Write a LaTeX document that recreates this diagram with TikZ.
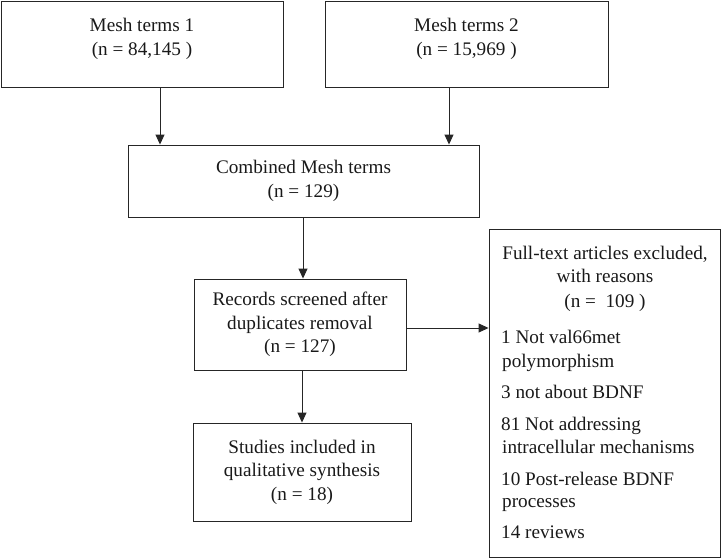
\documentclass[tikz,border=0pt]{standalone}
\usepackage{fontspec}
\setmainfont{Liberation Serif}
\usetikzlibrary{arrows.meta}
\begin{document}
\begin{tikzpicture}[x=1pt,y=-1pt,
  box/.style={draw=black!85, line width=0.9pt, inner sep=0pt, font=\fontsize{19.2}{23.5}\selectfont, text=black!90, align=center},
  txt/.style={font=\fontsize{19.2}{23.5}\selectfont, text=black!90, align=center, inner sep=0pt},
  itm/.style={font=\fontsize{19.2}{23.5}\selectfont, text=black!90, anchor=base west, inner sep=0pt},
  hd/.style={font=\fontsize{19.2}{23.5}\selectfont, text=black!90, anchor=base, inner sep=0pt},
  arr/.style={draw=black!85, line width=1pt, -{Triangle[length=10pt,width=9pt]}}]
\useasboundingbox (0,0) rectangle (721,559);
% boxes
\node[box, minimum width=282pt, minimum height=86pt] (m1) at (142,44) {};
\node[txt] (m1t) at (142,39) {Mesh terms 1\\(n = 84,145 )};
\node[box, minimum width=283pt, minimum height=86pt] (m2) at (466.5,44) {};
\node[txt] (m2t) at (466.5,39) {Mesh terms 2\\(n = 15,969 )};
\node[box, minimum width=351pt, minimum height=72pt] (comb) at (303.5,181) {Combined Mesh terms\\(n = 129)};
\node[box, minimum width=212pt, minimum height=91pt] (rec) at (300,324.5) {Records screened after\\duplicates removal\\(n = 127)};
\node[box, minimum width=218pt, minimum height=98pt] (stud) at (302,472) {Studies included in\\qualitative synthesis\\(n = 18)};
\node[box, minimum width=231pt, minimum height=328pt] (excl) at (604.5,393) {};
% excluded text
\node[hd] (h1) at (605,259) {Full-text articles excluded,};
\node[hd] (h2) at (605,283) {with reasons};
\node[hd] (h3) at (605,307) {(n =\ \ 109 )};
\node[itm] (i1) at (501,343) {1 Not val66met};
\node[itm] (i2) at (502,367) {polymorphism};
\node[itm] (i3) at (501,398) {3 not about BDNF};
\node[itm] (i4) at (501,430) {81 Not addressing};
\node[itm] (i5) at (502,453) {intracellular mechanisms};
\node[itm] (i6) at (501,485) {10 Post-release BDNF};
\node[itm] (i7) at (502,507) {processes};
\node[itm] (i8) at (501,538) {14 reviews};
% arrows
\draw[arr] ([xshift=18pt]m1.south) -- ([xshift=18pt]m1.south |- comb.north);
\draw[arr] ([xshift=-17.5pt]m2.south) -- ([xshift=-17.5pt]m2.south |- comb.north);
\draw[arr] ([xshift=-0.5pt]comb.south) -- ([xshift=-0.5pt]comb.south |- rec.north);
\draw[arr] (stud.north |- rec.south) -- (stud.north);
\draw[arr] ([yshift=-3.5pt]rec.east) -- ([yshift=-3.5pt]rec.east -| excl.west);
\end{tikzpicture}
\end{document}
